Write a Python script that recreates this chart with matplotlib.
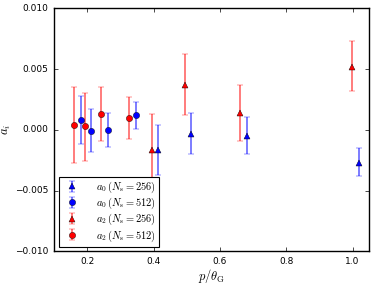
import matplotlib
matplotlib.use("Agg")
import matplotlib.pyplot as plt
import numpy as np

plt.style.use('classic')

# a0, Ns=256 (blue triangles)
x_a0_256 = [0.413, 0.514, 0.682, 1.019]
y_a0_256 = [-0.0017, -0.00038, -0.00052, -0.00269]
hi_a0_256 = [0.00038, 0.00135, 0.00104, -0.00151]
lo_a0_256 = [-0.00371, -0.00203, -0.00195, -0.00379]

# a0, Ns=512 (blue circles)
x_a0_512 = [0.180, 0.212, 0.262, 0.346]
y_a0_512 = [0.00082, -0.00008, 0.0, 0.00118]
hi_a0_512 = [0.0028, 0.00168, 0.00137, 0.00231]
lo_a0_512 = [-0.00115, -0.00184, -0.0014, 0.00003]

# a2, Ns=256 (red triangles)
x_a2_256 = [0.394, 0.4935, 0.661, 0.998]
y_a2_256 = [-0.00165, 0.00371, 0.00135, 0.00519]
hi_a2_256 = [0.00132, 0.00626, 0.00368, 0.00734]
lo_a2_256 = [-0.0047, 0.00121, -0.00093, 0.00316]

# a2, Ns=512 (red circles)
x_a2_512 = [0.159, 0.193, 0.2406, 0.326]
y_a2_512 = [0.00038, 0.0003, 0.00132, 0.00096]
hi_a2_512 = [0.00354, 0.00305, 0.00354, 0.00266]
lo_a2_512 = [-0.00272, -0.00253, -0.00091, -0.00077]

fig = plt.figure(figsize=(3.74, 2.85), dpi=100)
fig.patch.set_facecolor('white')
ax = fig.add_axes([0.145, 0.118, 0.842, 0.853])

def draw(x, y, hi, lo, color, marker, label):
    y = np.array(y); hi = np.array(hi); lo = np.array(lo)
    err = [y - lo, hi - y]
    eb = ax.errorbar(x, y, yerr=err, fmt=marker, color=color, ecolor=color,
                     mec='k', mew=0.3, ms=4.5, elinewidth=1.2, capsize=2.5,
                     capthick=1.5, label=label)
    for lc in eb[2]:
        lc.set_alpha(0.6)

draw(x_a0_256, y_a0_256, hi_a0_256, lo_a0_256, 'b', '^', r'$a_0\,(N_{\rm s}=256)$')
draw(x_a0_512, y_a0_512, hi_a0_512, lo_a0_512, 'b', 'o', r'$a_0\,(N_{\rm s}=512)$')
draw(x_a2_256, y_a2_256, hi_a2_256, lo_a2_256, 'r', '^', r'$a_2\,(N_{\rm s}=256)$')
draw(x_a2_512, y_a2_512, hi_a2_512, lo_a2_512, 'r', 'o', r'$a_2\,(N_{\rm s}=512)$')

ax.set_xlim(0.1, 1.05)
ax.set_ylim(-0.01, 0.01)
ax.set_xticks([0.2, 0.4, 0.6, 0.8, 1.0])
ax.set_yticks([-0.01, -0.005, 0.0, 0.005, 0.01])
ax.set_yticklabels(['\u22120.010', '\u22120.005', '0.000', '0.005', '0.010'])
ax.tick_params(labelsize=6.5, length=3)
ax.set_xlabel(r'$p/\theta_{\rm G}$', fontsize=9, labelpad=1)
ax.set_ylabel(r'$a_i$', fontsize=9, labelpad=2)

leg = ax.legend(loc='lower left', fontsize=7.5, numpoints=1, fancybox=False,
                borderaxespad=0.45, handletextpad=1.3, labelspacing=0.08,
                borderpad=0.3, handleheight=0.75, framealpha=1)
leg.get_frame().set_edgecolor('k')
leg.get_frame().set_linewidth(0.8)

fig.savefig('out.png', dpi=100, facecolor='white')
